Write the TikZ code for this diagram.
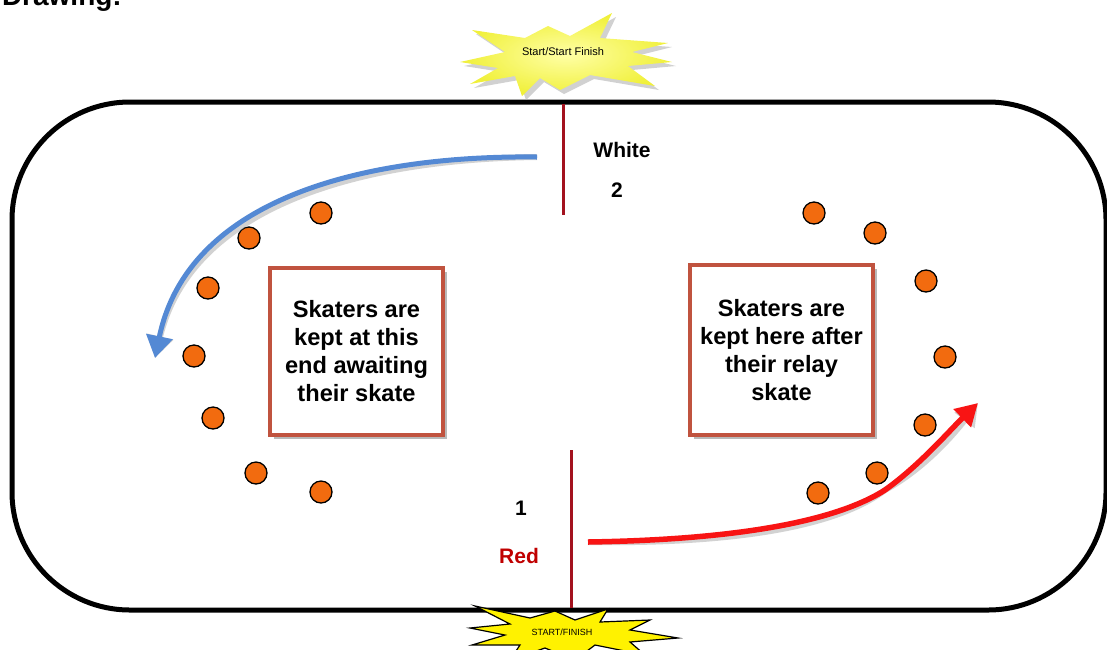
\documentclass[tikz,border=0pt]{standalone}
\usepackage{fontspec}
\setmainfont{Liberation Sans}
\usetikzlibrary{arrows.meta,shadows}
\definecolor{boxred}{HTML}{C0533F}
\definecolor{lanered}{HTML}{A3121E}
\definecolor{dotorange}{HTML}{F26B0F}
\definecolor{arrowblue}{HTML}{5489D4}
\definecolor{arrowred}{HTML}{F81414}
\definecolor{staryellow}{HTML}{F0F03A}
\definecolor{labelred}{HTML}{C00000}
\tikzset{
  rink/.style={line width=5pt, rounded corners=118pt},
  laneline/.style={draw=lanered, line width=3pt},
  skbox/.style={draw=boxred, line width=3.5pt, fill=white, align=center,
    font=\bfseries\fontsize{23.6}{28}\selectfont,
    drop shadow={shadow xshift=4pt, shadow yshift=-4pt, fill=gray, opacity=.55}},
  skater/.style={circle, draw=black, line width=1.3pt, fill=dotorange,
    minimum size=22pt, inner sep=0pt},
  lanelabel/.style={font=\bfseries\fontsize{21}{24}\selectfont, inner sep=0pt},
  arrowshadow/.style={draw=gray!70, opacity=.5, line width=6pt, xshift=4pt, yshift=-4pt},
  bluearrow/.style={draw=arrowblue, line width=5pt, -{Triangle[width=26pt,length=22pt]}},
  redarrow/.style={draw=arrowred, line width=5.5pt, -{Triangle[width=24pt,length=22pt]}},
  startext/.style={inner sep=0pt}
}
\begin{document}
\begin{tikzpicture}[x=1pt,y=-1pt]
\useasboundingbox (0,0) rectangle (1107,649);
\clip (0,0) rectangle (1107,649);

% title (cut off at the top, as in the original)
\node[anchor=base east, inner sep=0pt, font=\bfseries\fontsize{28}{30}\selectfont] (title) at (122,5) {Drawing:};

% rink outline
\draw[rink] (12,102) rectangle (1106,610);

% top star burst
\fill[gray!60, opacity=.6, xshift=4pt, yshift=-4pt]
  (460,62) -- (505,52) -- (472,30) -- (525,38) -- (548,26) -- (570,36) -- (612,13)
  -- (600,38) -- (668,43) -- (632,52) -- (672,62) -- (628,66) -- (655,86) -- (590,75)
  -- (560,90) -- (540,78) -- (522,96) -- (515,76) -- (470,84) -- (498,68) -- cycle;
\shade[inner color=yellow!35, outer color=staryellow]
  (460,62) -- (505,52) -- (472,30) -- (525,38) -- (548,26) -- (570,36) -- (612,13)
  -- (600,38) -- (668,43) -- (632,52) -- (672,62) -- (628,66) -- (655,86) -- (590,75)
  -- (560,90) -- (540,78) -- (522,96) -- (515,76) -- (470,84) -- (498,68) -- cycle;
\node[startext, font=\fontsize{11}{12}\selectfont] (topstar) at (563,52) {Start/Start Finish};

% lane lines
\coordinate (t1) at (563,104);
\coordinate (t2) at (563,215);
\coordinate (b1) at (571,450);
\coordinate (b2) at (571,608);
\draw[laneline] (t1) -- (t2);
\draw[laneline] (b1) -- (b2);

% bottom star burst
\filldraw[fill=yellow, draw=black, line width=1.2pt]
  (475,606) -- (530,618) -- (555,611) -- (575,620) -- (608,609) -- (600,622) -- (650,620)
  -- (630,630) -- (678,638) -- (630,642) -- (645,655) -- (595,645) -- (575,660)
  -- (545,648) -- (510,660) -- (520,645) -- (472,645) -- (505,635) -- (470,628)
  -- (510,624) -- cycle;
\node[startext, font=\fontsize{9}{10}\selectfont] (botstar) at (562,632) {START/FINISH};

% lane labels
\node[lanelabel] (white) at (622,150) {White};
\node[lanelabel] (two) at (617,190) {2};
\node[lanelabel] (one) at (521,508) {1};
\node[lanelabel, text=labelred] (red) at (519,556) {Red};

% boxes
\node[skbox, minimum width=173pt, minimum height=167pt] (lbox) at (356.5,351.5)
  {Skaters are\\kept at this\\end awaiting\\their skate};
\node[skbox, minimum width=183pt, minimum height=170pt] (rbox) at (781.5,350)
  {Skaters are\\kept here after\\their relay\\skate};

% skaters left
\node[skater] (l1) at (321,213) {};
\node[skater] (l2) at (249,238) {};
\node[skater] (l3) at (208,288) {};
\node[skater] (l4) at (194,356) {};
\node[skater] (l5) at (213,418) {};
\node[skater] (l6) at (256,473) {};
\node[skater] (l7) at (321,492) {};
% skaters right
\node[skater] (r1) at (814,213) {};
\node[skater] (r2) at (875,233) {};
\node[skater] (r3) at (926,281) {};
\node[skater] (r4) at (945,357) {};
\node[skater] (r5) at (925,425) {};
\node[skater] (r6) at (877,473) {};
\node[skater] (r7) at (818,493) {};

% blue arrow
\coordinate (bs) at (537,157);
\coordinate (be) at (155,358);
\draw[arrowshadow, -{Triangle[width=26pt,length=22pt]}] (bs) .. controls (365,155) and (188,198) .. (be);
\draw[bluearrow] (bs) .. controls (365,155) and (188,198) .. (be);

% red arrow
\coordinate (rs) at (588,542);
\coordinate (rm) at (885,490);
\coordinate (re) at (978,403);
\draw[arrowshadow, -{Triangle[width=24pt,length=22pt]}] (rs) .. controls (720,540) and (830,525) .. (rm) .. controls (920,465) and (950,430) .. (re);
\draw[redarrow] (rs) .. controls (720,540) and (830,525) .. (rm) .. controls (920,465) and (950,430) .. (re);
\end{tikzpicture}
\end{document}
